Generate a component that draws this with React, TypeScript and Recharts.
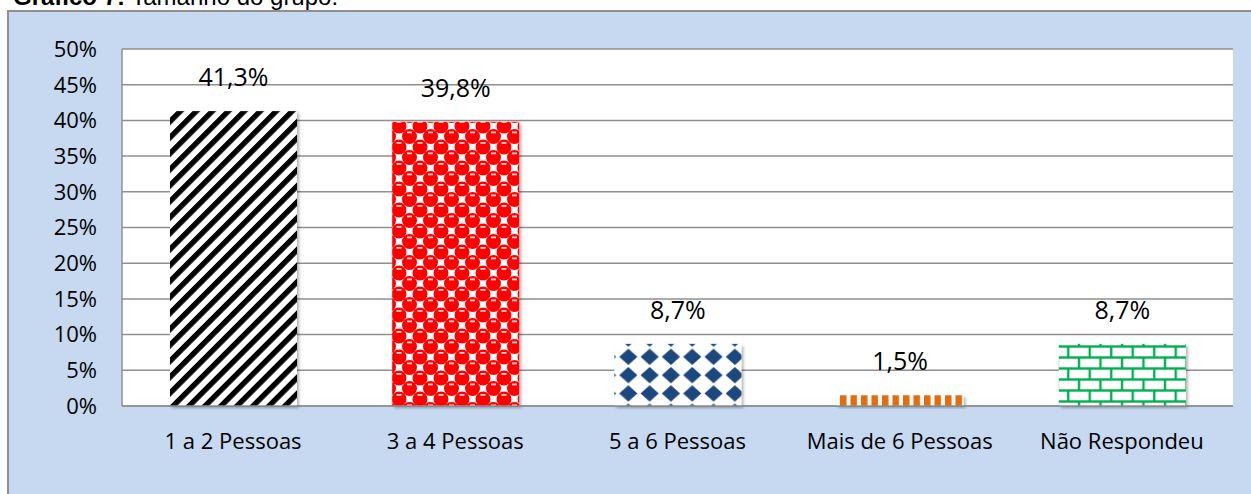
import { BarChart, Bar, XAxis, YAxis, CartesianGrid, LabelList, Cell } from 'recharts'

const categories = ['1 a 2 Pessoas', '3 a 4 Pessoas', '5 a 6 Pessoas', 'Mais de 6 Pessoas', 'Não Respondeu']
const percentages = [41.3, 39.8, 8.7, 1.5, 8.7]
const yTicks = [0, 5, 10, 15, 20, 25, 30, 35, 40, 45, 50]
const patternIds = ['pStripes', 'pSpheres', 'pDiamonds', 'pOrange', 'pBricks']

const data = categories.map((name, i) => ({ name, value: percentages[i] }))

const FONT = '"Open Sans", sans-serif'
const GRID = '#8F8F8F'

function ShadowBar(props: any) {
  const { x, y, width, height, fill } = props
  if (!height || height <= 0) return null
  return <rect x={x} y={y} width={width} height={height} fill={fill} filter="url(#barShadow)" />
}

export default function App() {
  return (
    <div style={{ position: 'absolute', left: 0, top: 0, width: 1251, height: 494, overflow: 'hidden', background: '#fff' }}>
      <div
        style={{
          position: 'absolute', left: 13, top: -15, whiteSpace: 'nowrap',
          fontFamily: '"Liberation Sans", Arial, sans-serif', fontSize: 24, lineHeight: '24px', color: '#000',
        }}
      >
        <b>Gráfico 7:</b> Tamanho do grupo.
      </div>
      <div
        style={{
          position: 'absolute', left: 7, top: 10, width: 1270, height: 510,
          background: '#C6D9F0', borderTop: `2px solid ${GRID}`, borderLeft: `2px solid ${GRID}`,
        }}
      />
      <div style={{ position: 'absolute', left: 0, top: 0 }}>
        <BarChart width={1251} height={494} data={data} margin={{ top: 49, right: 18, bottom: 28, left: 0 }}>
          <defs>
            <filter id="barShadow" x="-10%" y="-10%" width="130%" height="130%">
              <feDropShadow dx="2" dy="2" stdDeviation="1.5" floodColor="#000" floodOpacity="0.3" />
            </filter>
            <pattern id="pStripes" patternUnits="userSpaceOnUse" width={11.3} height={11.3} patternTransform="rotate(45)">
              <rect width={11.3} height={11.3} fill="#fff" />
              <rect width={5.4} height={11.3} fill="#000" />
            </pattern>
            <pattern id="pSpheres" patternUnits="userSpaceOnUse" width={21} height={21}>
              <rect width={21} height={21} fill="#fff" />
              <circle cx={10.5} cy={10.5} r={7.5} fill="#FF0000" />
              <circle cx={0} cy={0} r={7.5} fill="#FF0000" />
              <circle cx={21} cy={0} r={7.5} fill="#FF0000" />
              <circle cx={0} cy={21} r={7.5} fill="#FF0000" />
              <circle cx={21} cy={21} r={7.5} fill="#FF0000" />
              <rect x={8} y={5.5} width={5} height={1.8} fill="#fff" opacity={0.85} />
              <rect x={-2.5} y={16} width={5} height={1.8} fill="#fff" opacity={0.85} />
              <rect x={18.5} y={16} width={5} height={1.8} fill="#fff" opacity={0.85} />
            </pattern>
            <pattern id="pDiamonds" patternUnits="userSpaceOnUse" width={21.3} height={18.3}>
              <rect width={21.3} height={18.3} fill="#fff" />
              <polygon points="10.65,0.9 19.8,9.15 10.65,17.4 1.5,9.15" fill="#1F497D" />
            </pattern>
            <pattern id="pOrange" patternUnits="userSpaceOnUse" width={10.5} height={10}>
              <rect width={10.5} height={10} fill="#fff" />
              <rect width={6.5} height={10} fill="#E46C0A" />
            </pattern>
            <pattern id="pBricks" patternUnits="userSpaceOnUse" width={21.5} height={22}>
              <rect width={21.5} height={22} fill="#fff" />
              <g stroke="#00B050" strokeWidth={2.4}>
                <line x1={0} y1={5.5} x2={21.5} y2={5.5} />
                <line x1={0} y1={16.5} x2={21.5} y2={16.5} />
                <line x1={4} y1={5.5} x2={4} y2={16.5} />
                <line x1={14.75} y1={16.5} x2={14.75} y2={22} />
                <line x1={14.75} y1={0} x2={14.75} y2={5.5} />
              </g>
            </pattern>
          </defs>
          <CartesianGrid vertical={false} stroke={GRID} strokeWidth={1.5} fill="#fff" fillOpacity={1} />
          <XAxis
            dataKey="name"
            interval={0}
            height={60}
            tickLine={false}
            tickSize={0}
            tickMargin={27}
            axisLine={{ stroke: GRID, strokeWidth: 1.5 }}
            tick={{ fill: '#000', fontSize: 22, fontFamily: FONT }}
          />
          <YAxis
            width={122}
            domain={[0, 50]}
            ticks={yTicks}
            interval={0}
            tickLine={false}
            tickSize={0}
            tickMargin={25}
            axisLine={{ stroke: GRID, strokeWidth: 1.5 }}
            tickFormatter={(v: number) => `${v}%`}
            tick={{ fill: '#000', fontSize: 22, fontFamily: FONT }}
          />
          <Bar dataKey="value" barSize={127} isAnimationActive={false} shape={<ShadowBar />}>
            {data.map((d, i) => (
              <Cell key={d.name} fill={`url(#${patternIds[i]})`} />
            ))}
            <LabelList
              dataKey="value"
              position="top"
              offset={25}
              formatter={(v: any) => `${Number(v).toFixed(1).replace('.', ',')}%`}
              style={{ fill: '#000', fontSize: 25, fontFamily: FONT }}
            />
          </Bar>
        </BarChart>
      </div>
    </div>
  )
}
